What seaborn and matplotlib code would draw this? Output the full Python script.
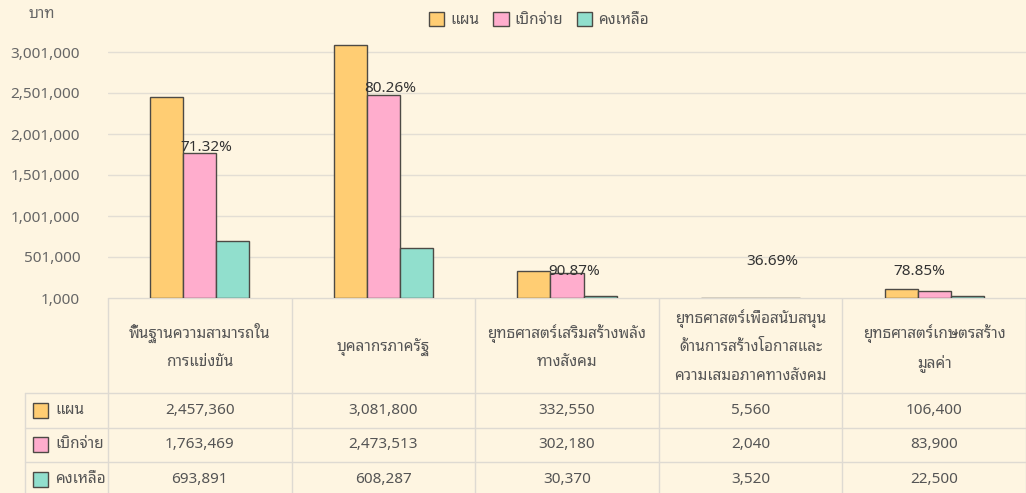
import matplotlib
matplotlib.use("Agg")
import pandas as pd
import seaborn as sns
import matplotlib.pyplot as plt
from matplotlib.patches import Patch, Rectangle

categories = [
    "พื้นฐานความสามารถใน\nการแข่งขัน",
    "บุคลากรภาครัฐ",
    "ยุทธศาสตร์เสริมสร้างพลัง\nทางสังคม",
    "ยุทธศาสตร์เพื่อสนับสนุน\nด้านการสร้างโอกาสและ\nความเสมอภาคทางสังคม",
    "ยุทธศาสตร์เกษตรสร้าง\nมูลค่า",
]
series = ["แผน", "เบิกจ่าย", "คงเหลือ"]
plan = [2457360, 3081800, 332550, 5560, 106400]
paid = [1763469, 2473513, 302180, 2040, 83900]
remain = [693891, 608287, 30370, 3520, 22500]
pct_labels = ["71.32%", "80.26%", "90.87%", "36.69%", "78.85%"]
yticks = [1000, 501000, 1001000, 1501000, 2001000, 2501000, 3001000]

colors = ["#FFCD73", "#FFADCD", "#91DFCD"]
bg = "#FEF5E1"
line_c = "#DEDAD2"
txt_c = "#555555"

sns.set_style("white")
plt.rcParams["font.family"] = ["Noto Sans", "Noto Sans Thai Looped"]

df = pd.DataFrame({
    "cat": categories * 3,
    "series": [s for s in series for _ in categories],
    "value": plan + paid + remain,
})

W, H = 1026, 493
fig = plt.figure(figsize=(W / 100, H / 100), dpi=100, facecolor=bg)
ax_left, ax_bottom, ax_top = 108, 298, 35.6
ax = fig.add_axes([ax_left / W, (H - ax_bottom) / H, (W - ax_left) / W, (ax_bottom - ax_top) / H])
ax.set_facecolor(bg)

sns.barplot(data=df, x="cat", y="value", hue="series", palette=colors, saturation=1,
            width=0.54, edgecolor="#4d4a45", linewidth=1, ax=ax, legend=False)

ax.set_ylim(1000, 3201000)
ax.set_xlim(-0.5, 4.5)
ax.set_yticks(yticks)
ax.set_yticklabels([f"{v:,}" for v in yticks], color="#666666", fontsize=11)
ax.tick_params(axis="y", length=0, pad=20)
ax.set_xticks([])
ax.set_xlabel("")
ax.set_ylabel("")
for s in ax.spines.values():
    s.set_visible(False)
ax.yaxis.grid(True, color="#E3DED4", lw=1)
ax.set_axisbelow(True)

# percent labels over the paid bars
dx = [7, 7, 7, 22, -15]
dy = [2, 3, -2, 33, 16]
for i, lab in enumerate(pct_labels):
    ax.annotate(lab, xy=(i, paid[i]), xytext=(dx[i] * 0.72, dy[i] * 0.72),
                textcoords="offset points", ha="center", va="baseline",
                fontsize=11, color="#333333", annotation_clip=False)

fig.text(42 / W, 1 - 15 / H, "บาท", ha="center", va="center", fontsize=11, color="#666666")

handles = [Patch(facecolor=c, edgecolor="#4d4a45", lw=1) for c in colors]
fig.legend(handles, series, loc="center", bbox_to_anchor=(539 / W, 1 - 20 / H), ncol=3,
           frameon=False, handlelength=1.0, handleheight=1.0, handletextpad=0.4,
           columnspacing=0.9, fontsize=11, labelcolor=txt_c)

# data table below the chart
unit = (W - ax_left) / 5
tab = fig.add_axes([0, 0, 1, (H - ax_bottom) / H])
tab.set_xlim(-0.5 - ax_left / unit, 4.5)
tab.set_ylim(H - ax_bottom, 0)
tab.axis("off")
tab.patch.set_alpha(0)


def px(p):
    return -0.5 - ax_left / unit + p / unit


head_h, row_h, line_h = 95, 34.5, 29.5
rows = [plan, paid, remain]
tab.plot([-0.5, 4.5], [0, 0], color=line_c, lw=1)
for k in range(3):
    y = head_h + k * row_h
    tab.plot([px(25), 4.5], [y, y], color=line_c, lw=1)
tab.plot([px(25), px(25)], [head_h, H], color=line_c, lw=1)
for i in range(6):
    tab.plot([i - 0.5, i - 0.5], [0, H], color=line_c, lw=1)

for i, c in enumerate(categories):
    parts = c.split("\n")
    y0 = head_h / 2 - (len(parts) - 1) * line_h / 2
    for j, part in enumerate(parts):
        tab.text(i, y0 + j * line_h, part, ha="center", va="center_baseline",
                 fontsize=11, color=txt_c)
for k, vals in enumerate(rows):
    yc = head_h + k * row_h + row_h / 2
    for i, v in enumerate(vals):
        tab.text(i, yc, f"{v:,}", ha="center", va="center", fontsize=11, color=txt_c)
    tab.add_patch(Rectangle((px(33), yc - 7.5), 15 / unit, 15, facecolor=colors[k],
                            edgecolor="#4d4a45", lw=1))
    tab.text(px(55), yc, series[k], ha="left", va="center", fontsize=11, color=txt_c)

fig.savefig("out.png", dpi=100, facecolor=bg)
